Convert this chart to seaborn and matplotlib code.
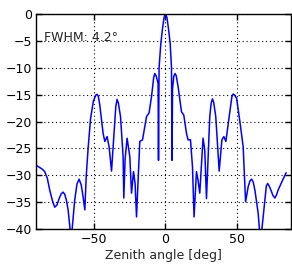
import numpy as np
import pandas as pd
import matplotlib
matplotlib.use("Agg")
import matplotlib.pyplot as plt
import seaborn as sns

zenith_deg = [
    -90.8, -86.5, -84.6, -82.8, -81.1, -79.3, -77.6, -76.0, -74.5, -73.0, -71.8,
    -70.6, -69.5, -68.2, -67.0, -66.2, -65.4,
    -63.6, -62.0, -60.5, -59.0, -57.7, -56.5, -55.5, -54.2, -52.5, -50.5,
    -48.8, -47.9, -47.0, -46.0,
    -43.7, -42.5, -40.9, -39.5, -37.8, -36.2, -34.8, -33.9, -33.0, -31.5, -29.7, -29.2,
    -28.3, -26.9, -25.0, -23.8, -22.4, -21.3, -20.3, -18.0, -16.1, -13.3,
    -11.5, -9.8, -8.3, -7.5, -6.6, -5.2, -4.9, -4.5, -3.3, -2.1, -1.0, 0.0,
    1.0, 2.1, 3.3, 4.2, 4.6, 4.9, 5.8, 6.7, 7.5, 8.8, 11.2,
    12.8, 14.7, 15.8, 17.5, 18.9, 20.0, 21.7, 22.8, 24.0, 26.3,
    27.5, 28.7, 31.0, 32.0, 32.9, 33.8, 35.2, 37.6, 39.5, 40.9, 42.3, 44.6,
    46.5, 47.4, 48.4, 49.8, 52.1, 54.4, 56.1, 57.9, 59.2, 60.3, 61.4, 62.6, 64.9, 65.8,
    66.5, 67.5, 69.6, 70.6, 71.5, 72.5, 73.8, 75.2, 76.6, 77.8, 78.9, 82.0, 84.5,
]
gain_db = [
    -28.1, -28.8, -29.3, -30.5, -32.7, -34.6, -35.9, -35.5, -34.3, -33.4, -33.1,
    -33.5, -34.5, -36.4, -39.5, -45.0, -40.0,
    -34.6, -31.6, -30.7, -31.8, -34.0, -36.4, -30.0, -25.0, -19.5, -16.2,
    -15.1, -14.95, -15.4, -17.0,
    -22.2, -23.7, -22.8, -24.7, -29.2, -22.8, -17.2, -15.9, -16.6, -19.1, -26.5, -34.2,
    -27.0, -23.1, -26.5, -33.3, -29.3, -31.5, -37.7, -23.7, -23.4, -19.1,
    -18.4, -15.4, -11.9, -11.1, -11.5, -12.9, -27.2, -10.0, -5.6, -2.8, -0.7, 0.0,
    -0.7, -2.8, -5.6, -10.0, -27.2, -14.0, -11.6, -11.1, -11.5, -13.5, -18.2,
    -18.8, -22.2, -23.4, -23.4, -28.4, -37.7, -29.3, -30.9, -33.3, -23.1,
    -25.3, -34.3, -19.1, -16.6, -15.8, -16.5, -19.1, -29.2, -23.4, -22.8, -23.7, -19.1,
    -15.4, -14.9, -15.1, -15.7, -20.0, -24.7, -34.9, -32.1, -31.0, -30.7, -31.2, -32.7, -37.0, -40.0,
    -45.0, -40.0, -34.6, -32.0, -31.5, -31.9, -32.7, -33.7, -34.2, -33.6, -32.7, -30.9, -29.5,
]
x_ticks = [-50, 0, 50]
y_ticks = [0, -5, -10, -15, -20, -25, -30, -35, -40]
fwhm_label = "FWHM: 4.2°"
x_label = "Zenith angle [deg]"

df = pd.DataFrame({"zenith": zenith_deg, "gain": gain_db})

sns.set_style("ticks")
plt.rcParams["font.family"] = ["DejaVu Sans"]
plt.rcParams["font.size"] = 9

fig = plt.figure(figsize=(2.92, 2.67), dpi=100)
ax = fig.add_axes([36 / 292, 1 - 229.3 / 267, 255 / 292, 215.6 / 267])

sns.lineplot(data=df, x="zenith", y="gain", ax=ax, color="#0000ff",
             linewidth=1.1, estimator=None, sort=False)

ax.set_xlim(-90.7, 87.9)
ax.set_ylim(-40, 0)
ax.set_xticks(x_ticks)
ax.set_yticks(y_ticks)
ax.set_xticklabels([f"{t}".replace("-", "\u2212") for t in x_ticks])
ax.set_yticklabels([f"{t}".replace("-", "\u2212") for t in y_ticks])
ax.grid(True, linestyle=(0, (1, 2.5)), color="black", linewidth=0.8)
ax.tick_params(direction="in", length=4, width=1, top=True, right=True,
               labelsize=9, pad=3, colors="black")
for s in ax.spines.values():
    s.set_linewidth(1.0)
    s.set_color("black")
ax.set_xlabel(x_label, fontsize=9, labelpad=2)
ax.set_ylabel("")
ax.text(-85.1, -5, fwhm_label, fontsize=9, va="baseline", ha="left")

fig.savefig("out.png", dpi=100)
